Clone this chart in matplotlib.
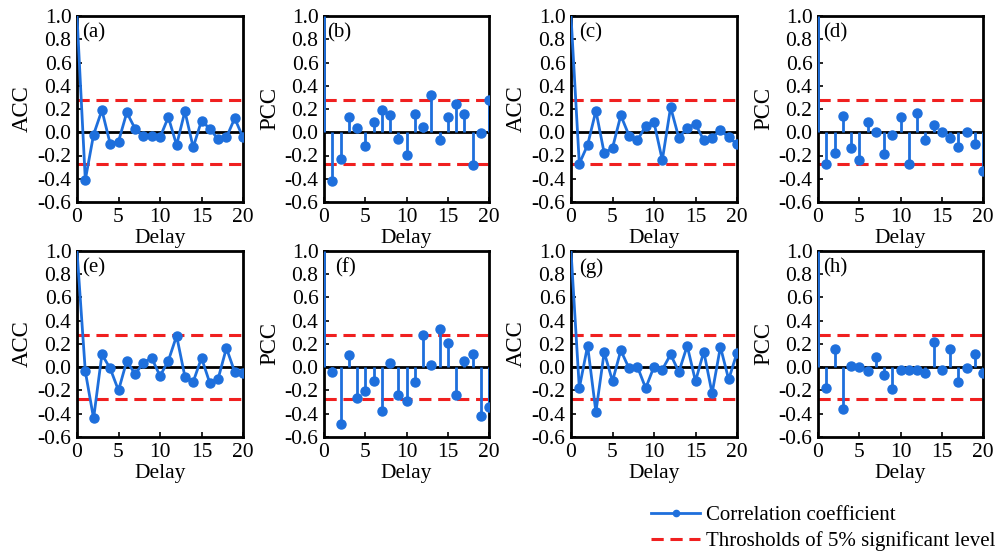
import matplotlib
matplotlib.use("Agg")
import matplotlib.pyplot as plt
from matplotlib.lines import Line2D
import numpy as np

plt.rcParams['font.family'] = ['Liberation Serif', 'DejaVu Serif']
plt.rcParams['axes.unicode_minus'] = False

lags = list(range(0, 21))
threshold = 0.277

acc_a = [1.0, -0.41, -0.02, 0.19, -0.10, -0.08, 0.17, 0.03, -0.035, -0.035, -0.045,
         0.13, -0.11, 0.18, -0.13, 0.10, 0.03, -0.06, -0.045, 0.12, -0.045]
pcc_b = [1.0, -0.42, -0.23, 0.13, 0.04, -0.115, 0.085, 0.195, 0.15, -0.055, -0.195,
         0.155, 0.045, 0.32, -0.07, 0.135, 0.245, 0.155, -0.28, -0.01, 0.28]
acc_c = [1.0, -0.27, -0.11, 0.185, -0.18, -0.135, 0.145, -0.03, -0.07, 0.055, 0.085,
         -0.24, 0.215, -0.05, 0.04, 0.07, -0.07, -0.05, 0.02, -0.045, -0.10]
pcc_d = [1.0, -0.275, -0.18, 0.14, -0.135, -0.24, 0.085, 0.005, -0.185, -0.02, 0.13,
         -0.27, 0.165, -0.07, 0.06, 0.005, -0.05, -0.125, 0.005, -0.105, -0.335]
acc_e = [1.0, -0.035, -0.44, 0.11, -0.01, -0.20, 0.055, -0.06, 0.04, 0.08, -0.075,
         0.055, 0.27, -0.08, -0.125, 0.08, -0.135, -0.10, 0.165, -0.04, -0.05]
pcc_f = [1.0, -0.04, -0.485, 0.105, -0.265, -0.205, -0.12, -0.38, 0.04, -0.235, -0.29,
         -0.125, 0.275, 0.02, 0.33, 0.205, -0.235, 0.055, 0.115, -0.42, -0.34]
acc_g = [1.0, -0.18, 0.185, -0.385, 0.13, -0.12, 0.145, -0.01, 0.005, -0.18, 0.005,
         -0.02, 0.11, -0.04, 0.185, -0.12, 0.135, -0.225, 0.175, -0.105, 0.125]
pcc_h = [1.0, -0.175, 0.16, -0.36, 0.01, 0.0, -0.035, 0.09, -0.065, -0.19, -0.02,
         -0.02, -0.025, -0.05, 0.215, -0.025, 0.16, -0.13, -0.01, 0.115, -0.05]

panel_labels = ["(a)", "(b)", "(c)", "(d)", "(e)", "(f)", "(g)", "(h)"]
y_labels = ["ACC", "PCC", "ACC", "PCC", "ACC", "PCC", "ACC", "PCC"]
series = [acc_a, pcc_b, acc_c, pcc_d, acc_e, pcc_f, acc_g, pcc_h]
ytick_vals = [-0.6, -0.4, -0.2, 0.0, 0.2, 0.4, 0.6, 0.8, 1.0]
xtick_vals = [0, 5, 10, 15, 20]
legend_labels = ["Correlation coefficient", "Throsholds of 5% significant level"]

W, H = 1007, 553
fig = plt.figure(figsize=(W / 100, H / 100), dpi=100)

lefts = [77, 324, 571, 818]
widths = [166, 165, 166, 165]
tops = [16, 251]
height = 186
label_x = [0.6, 0.4, 0.95, 0.6, 0.6, 1.3, 0.95, 0.6]

blue = '#1e6fdc'
red = '#f02020'
fs = 15.5
dash = (0, (4, 2.2))

for i in range(8):
    vals = series[i]
    ylab = y_labels[i]
    r, c = divmod(i, 4)
    x0 = lefts[c]
    y0 = tops[r]
    ax = fig.add_axes([x0 / W, 1 - (y0 + height) / H, widths[c] / W, height / H])
    ax.axhline(0, color='black', lw=2.0, zorder=2)
    ax.axhline(threshold, color=red, lw=2.2, ls=dash, zorder=2)
    ax.axhline(-threshold, color=red, lw=2.2, ls=dash, zorder=2)
    if ylab == "ACC":
        ax.plot(lags, vals, color=blue, lw=2.0, zorder=3)
    else:
        ax.vlines(lags, 0, vals, color=blue, lw=2.0, zorder=3)
    ax.plot(lags[1:], vals[1:], 'o', color=blue, ms=6.5, zorder=4)
    ax.set_xlim(0, 20)
    ax.set_ylim(-0.6, 1.0)
    ax.set_xticks(xtick_vals)
    ax.set_yticks(ytick_vals)
    ax.set_yticklabels([f"{t:.1f}" for t in ytick_vals])
    ax.tick_params(direction='in', length=3.5, width=1.2, labelsize=fs, pad=4)
    for s in ax.spines.values():
        s.set_linewidth(2.0)
    ax.set_xlabel("Delay", fontsize=fs, labelpad=2)
    ax.set_ylabel(ylab, fontsize=fs + 1, labelpad=3)
    ax.text(label_x[i], 0.815, panel_labels[i], fontsize=fs - 0.5, va='baseline', ha='left')

handles = [Line2D([0], [0], color=blue, lw=2.0, marker='o', ms=4.5),
           Line2D([0], [0], color=red, lw=2.2, ls=dash)]
fig.legend(handles, legend_labels,
           loc='upper left', bbox_to_anchor=(643 / W, 1 - 497 / H), frameon=False,
           fontsize=15, handlelength=2.35, handletextpad=0.25, labelspacing=0.3, borderaxespad=0)

fig.savefig("out.png", dpi=100)
